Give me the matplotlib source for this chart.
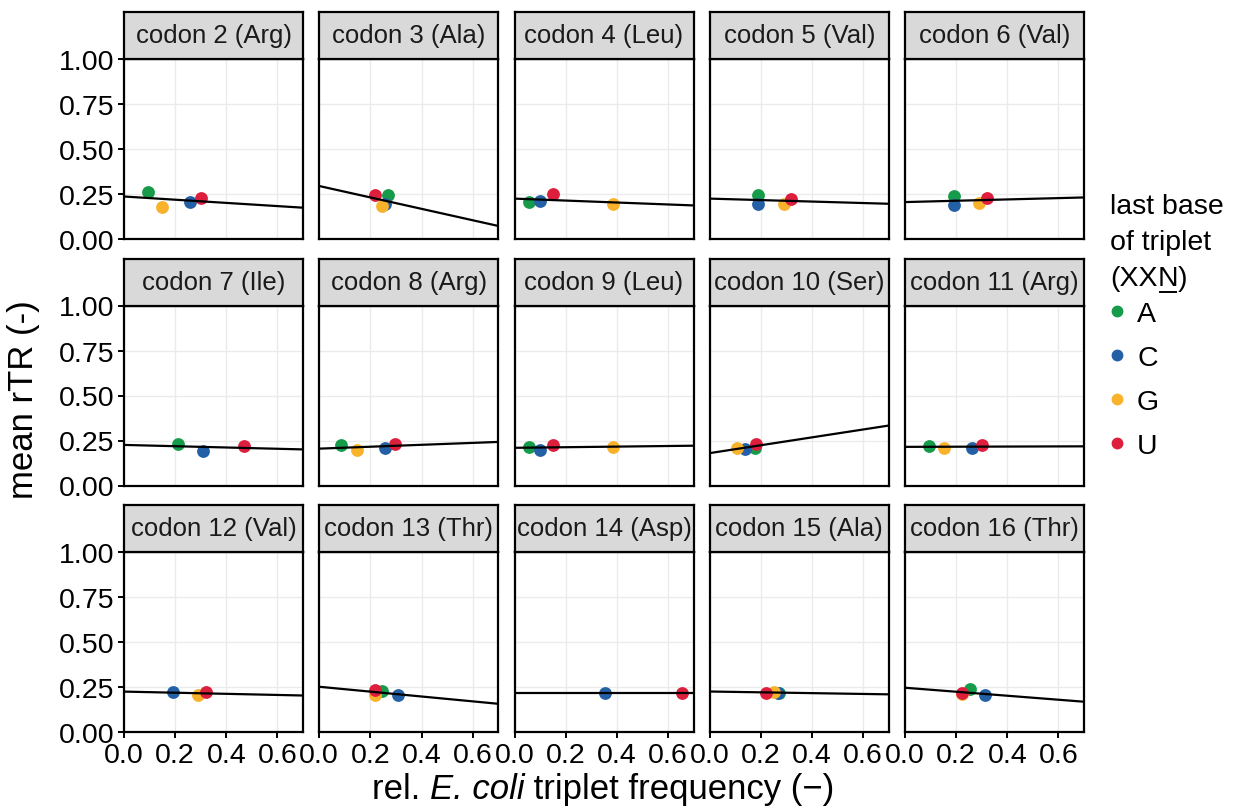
import numpy as np
import matplotlib
matplotlib.use("Agg")
import matplotlib.pyplot as plt
from matplotlib.lines import Line2D

plt.rcParams['font.family'] = ['Liberation Sans', 'DejaVu Sans']

codons = ['codon 2 (Arg)', 'codon 3 (Ala)', 'codon 4 (Leu)', 'codon 5 (Val)', 'codon 6 (Val)',
          'codon 7 (Ile)', 'codon 8 (Arg)', 'codon 9 (Leu)', 'codon 10 (Ser)', 'codon 11 (Arg)',
          'codon 12 (Val)', 'codon 13 (Thr)', 'codon 14 (Asp)', 'codon 15 (Ala)', 'codon 16 (Thr)']

nan = np.nan
# relative E. coli triplet frequency, per last base
freq_A = [0.092, 0.269, 0.058, 0.189, 0.193, 0.210, 0.087, 0.058, 0.178, 0.092, nan, 0.247, nan, 0.272, 0.253]
freq_C = [0.260, 0.259, 0.099, 0.189, 0.193, 0.310, 0.256, 0.100, 0.139, 0.263, 0.190, 0.308, 0.352, 0.265, 0.311]
freq_G = [0.150, 0.247, 0.384, 0.291, 0.289, nan, 0.148, 0.384, 0.108, 0.152, 0.289, 0.217, nan, 0.251, 0.222]
freq_U = [0.301, 0.217, 0.149, 0.319, 0.320, 0.471, 0.296, 0.150, 0.179, 0.300, 0.321, 0.217, 0.655, 0.219, 0.222]
# mean rTR, per last base
rtr_A = [0.262, 0.242, 0.204, 0.242, 0.238, 0.233, 0.223, 0.214, 0.210, 0.220, nan, 0.226, nan, 0.2185, 0.239]
rtr_C = [0.204, 0.193, 0.210, 0.195, 0.190, 0.190, 0.209, 0.196, 0.201, 0.209, 0.221, 0.207, 0.2185, 0.216, 0.204]
rtr_G = [0.178, 0.186, 0.195, 0.195, 0.201, nan, 0.196, 0.214, 0.209, 0.210, 0.2056, 0.207, nan, 0.224, 0.212]
rtr_U = [0.229, 0.242, 0.251, 0.225, 0.228, 0.218, 0.233, 0.225, 0.232, 0.223, 0.222, 0.2315, 0.2185, 0.2185, 0.2167]

bases = ['A', 'C', 'G', 'U']
colors = {'A': '#169B4B', 'C': '#2360A5', 'G': '#F8B22C', 'U': '#DD1F3D'}
freqs = {'A': freq_A, 'C': freq_C, 'G': freq_G, 'U': freq_U}
rtrs = {'A': rtr_A, 'C': rtr_C, 'G': rtr_G, 'U': rtr_U}

W, H = 1233, 812
fig = plt.figure(figsize=(W / 100, H / 100), dpi=100)
renderer = fig.canvas.get_renderer()

x0, col_step, pw = 124, 195.25, 179
y0, row_step, ph = 60, 246.5, 180
strip_h = 47

tick_fs = 20.5
strip_fs = 18.5
title_fs = 25

for i, name in enumerate(codons):
    r, c = divmod(i, 5)
    left = x0 + c * col_step
    top = y0 + r * row_step
    ax = fig.add_axes([left / W, 1 - (top + ph) / H, pw / W, ph / H])
    sax = fig.add_axes([left / W, 1 - top / H, pw / W, strip_h / H])

    xs_all, ys_all = [], []
    for b in bases:
        x = freqs[b][i]
        y = rtrs[b][i]
        if np.isnan(x):
            continue
        ax.scatter(x, y, s=85, color=colors[b], linewidths=0, zorder=3)
        xs_all.append(x)
        ys_all.append(y)
    # linear fit over the whole x range
    slope, icpt = np.polyfit(xs_all, ys_all, 1)
    xl = np.array([0, 0.7])
    ax.plot(xl, icpt + slope * xl, color='black', lw=1.6, zorder=4)

    ax.set_xlim(0, 0.7)
    ax.set_ylim(0, 1)
    ax.set_xticks([0, 0.2, 0.4, 0.6])
    ax.set_yticks([0, 0.25, 0.5, 0.75, 1.0])
    ax.grid(True, color='#EBEBEB', lw=1.0, zorder=0)
    ax.set_axisbelow(True)
    for sp in ax.spines.values():
        sp.set_linewidth(1.6)
        sp.set_color('black')
    ax.tick_params(direction='out', length=4, width=1.4, colors='black', labelsize=tick_fs, pad=3)
    if c == 0:
        ax.set_yticklabels(['0.00', '0.25', '0.50', '0.75', '1.00'])
    else:
        ax.tick_params(axis='y', length=0, labelleft=False)
    if r == 2:
        ax.set_xticklabels(['0.0', '0.2', '0.4', '0.6'])
    else:
        ax.tick_params(axis='x', length=0, labelbottom=False)

    sax.set_facecolor('#D9D9D9')
    sax.set_xticks([])
    sax.set_yticks([])
    for sp in sax.spines.values():
        sp.set_linewidth(1.6)
        sp.set_color('black')
    sax.text(0.5, 0.5, name, ha='center', va='center', fontsize=strip_fs,
             color='#1A1A1A', transform=sax.transAxes)

# x axis title with italic species name, laid out piece by piece
parts = [('rel. ', 'normal'), ('E. coli', 'italic'), (' triplet frequency (−)', 'normal')]
widths = []
for txt, st in parts:
    t = fig.text(0, 0, txt, fontsize=title_fs, fontstyle=st)
    widths.append(t.get_window_extent(renderer).width)
    t.remove()
xpos = 603 - sum(widths) / 2
for (txt, st), w in zip(parts, widths):
    fig.text(xpos / W, 1 - 790 / H, txt, ha='left', va='center', fontsize=title_fs, fontstyle=st)
    xpos += w

fig.text(24 / W, 1 - 400 / H, 'mean rTR (-)', rotation=90, ha='center', va='center',
         fontsize=title_fs)

# legend title, N underlined
lx = 1110
fig.text(lx / W, 1 - 207 / H, 'last base', ha='left', va='center', fontsize=tick_fs)
fig.text(lx / W, 1 - 243 / H, 'of triplet', ha='left', va='center', fontsize=tick_fs)
t1 = fig.text(lx / W, 1 - 279 / H, '(XX', ha='left', va='center', fontsize=tick_fs)
e1 = t1.get_window_extent(renderer)
t2 = fig.text(e1.x1 / W, 1 - 279 / H, 'N', ha='left', va='center', fontsize=tick_fs)
e2 = t2.get_window_extent(renderer)
fig.text(e2.x1 / W, 1 - 279 / H, ')', ha='left', va='center', fontsize=tick_fs)
uy = 1 - 293 / H
fig.add_artist(Line2D([(e2.x0 + 2) / W, (e2.x1 - 2) / W], [uy, uy], color='black', lw=1.4,
                      transform=fig.transFigure))

handles = [Line2D([], [], marker='o', ls='', color=colors[b], markersize=7.5) for b in bases]
fig.legend(handles, bases, loc='upper left', bbox_to_anchor=(1100 / W, 1 - 293 / H),
           frameon=False, fontsize=tick_fs, handlelength=0.6, handletextpad=0.4,
           labelspacing=0.64, borderaxespad=0, borderpad=0.3)

fig.savefig('out.png', dpi=100)
